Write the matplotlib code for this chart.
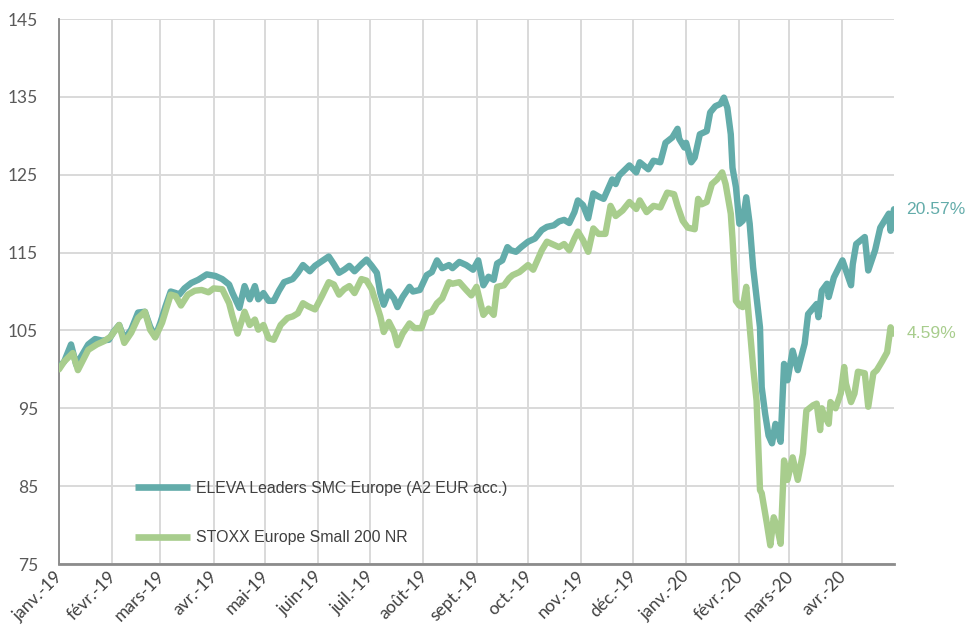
import numpy as np
import pandas as pd
import matplotlib
matplotlib.use('Agg')
import matplotlib.pyplot as plt
from matplotlib.transforms import ScaledTranslation

# days counted from 2019-01-01, values rebased to 100
eleva_days = [0, 3, 7, 10, 13, 17, 21, 25, 29, 32, 35, 38, 42, 46, 50, 53, 56, 59, 62, 65,
              68, 70, 73, 77, 81, 86, 91, 95, 99, 101, 105, 108, 111, 114, 116, 119, 122, 125, 128, 131,
              136, 139, 142, 146, 149, 153, 157, 160, 163, 166, 169, 172, 176, 179, 182, 185, 187, 189, 192, 195,
              197, 200, 204, 206, 210, 214, 217, 220, 223, 227, 229, 233, 237, 241, 244, 247, 250, 253, 255, 258,
              261, 263, 266, 269, 273, 277, 281, 284, 288, 291, 294, 297, 300, 302, 305, 308, 311, 314, 317, 322,
              324, 326, 332, 336, 338, 343, 346, 350, 353, 357, 360, 361, 364, 365, 368, 370, 373, 377, 379, 382,
              385, 387, 389, 391, 392, 394, 396, 398, 400, 402, 404, 406, 408, 409, 411, 413, 415, 417, 420, 422,
              424, 427, 430, 434, 436, 441, 442, 444, 447, 448, 451, 456, 461, 462, 464, 469, 471, 475, 478, 483,
              484, 486]
eleva = [100.3, 101.0, 103.2, 100.6, 101.7, 103.2, 103.9, 103.7, 103.8, 104.9, 105.7, 103.9, 105.1, 107.3, 107.4, 105.5, 104.2, 106.0, 108.1, 110.0,
         109.8, 109.6, 110.4, 111.1, 111.5, 112.2, 112.0, 111.6, 110.9, 109.8, 107.9, 110.7, 109.0, 110.7, 109.0, 109.8, 108.8, 108.8, 110.1, 111.2,
         111.6, 112.4, 113.4, 112.6, 113.3, 113.9, 114.5, 113.5, 112.4, 112.8, 113.3, 112.6, 113.5, 114.1, 113.3, 112.4, 109.8, 108.3, 110.0, 109.1,
         108.0, 109.3, 110.6, 110.0, 110.2, 112.1, 112.5, 114.0, 113.0, 113.4, 113.0, 113.8, 113.4, 112.8, 114.0, 110.8, 111.9, 111.5, 113.6, 114.0,
         115.7, 115.3, 115.1, 115.7, 116.4, 116.8, 117.9, 118.3, 118.5, 119.0, 119.2, 118.8, 120.2, 121.7, 121.1, 119.4, 122.6, 122.2, 121.9, 124.4,
         123.8, 124.9, 126.2, 125.3, 126.6, 125.7, 126.8, 126.6, 129.1, 129.8, 130.9, 129.6, 128.5, 129.1, 126.6, 127.2, 130.2, 130.6, 133.0, 133.8,
         134.1, 134.9, 133.6, 130.2, 125.9, 123.4, 118.7, 119.1, 122.1, 118.7, 113.1, 109.3, 105.4, 97.7, 94.3, 91.5, 90.5, 93.0, 90.7, 100.7,
         98.6, 102.4, 99.9, 103.3, 107.1, 108.4, 106.7, 110.1, 111.0, 109.3, 111.8, 114.0, 110.8, 113.5, 116.1, 117.0, 112.7, 115.3, 118.2, 120.0,
         117.8, 120.57]

stoxx_days = [0, 3, 8, 11, 14, 17, 22, 26, 30, 35, 38, 42, 46, 50, 53, 56, 60, 65, 68, 71,
              75, 79, 83, 87, 90, 95, 99, 101, 104, 108, 111, 114, 116, 119, 122, 125, 129, 133, 136, 139,
              142, 145, 149, 153, 157, 160, 163, 166, 169, 172, 176, 179, 182, 184, 187, 189, 192, 195, 197, 200,
              204, 207, 211, 214, 217, 220, 223, 227, 229, 233, 237, 240, 243, 247, 250, 253, 255, 259, 262, 264,
              268, 273, 276, 281, 284, 288, 291, 294, 297, 300, 302, 305, 308, 311, 314, 318, 321, 324, 328, 332,
              336, 338, 342, 346, 350, 354, 358, 360, 363, 366, 370, 372, 374, 377, 380, 383, 386, 388, 391, 392,
              394, 396, 398, 400, 402, 404, 406, 408, 409, 412, 414, 416, 418, 420, 422, 424, 427, 430, 433, 435,
              439, 441, 443, 444, 445, 448, 449, 452, 455, 457, 458, 461, 463, 465, 469, 471, 474, 476, 479, 482,
              484, 486]
stoxx = [100.0, 101.0, 102.1, 99.9, 101.2, 102.5, 103.2, 103.6, 104.2, 105.7, 103.4, 104.7, 106.6, 107.4, 105.1, 104.1, 106.0, 109.6, 109.4, 108.2,
         109.6, 110.1, 110.2, 109.9, 110.4, 110.3, 108.5, 106.8, 104.6, 107.4, 105.7, 106.4, 105.1, 105.7, 104.0, 103.8, 105.7, 106.6, 106.8, 107.2,
         108.5, 108.1, 107.7, 109.4, 111.2, 110.9, 109.6, 110.3, 110.7, 109.8, 111.6, 111.4, 110.3, 108.9, 106.8, 104.8, 106.1, 104.8, 103.1, 104.6,
         105.9, 105.3, 105.3, 107.2, 107.4, 108.5, 109.1, 111.2, 111.0, 111.2, 110.2, 109.5, 110.6, 107.0, 107.8, 107.0, 110.6, 110.8, 111.7, 112.1,
         112.5, 113.4, 112.8, 115.3, 116.4, 116.0, 115.7, 116.1, 115.3, 116.8, 117.7, 116.6, 115.1, 118.1, 117.4, 117.4, 121.0, 119.7, 120.4, 121.5,
         120.6, 121.7, 120.2, 121.0, 120.8, 122.7, 122.5, 121.0, 119.1, 118.2, 118.0, 121.9, 121.2, 121.5, 123.8, 124.4, 125.3, 123.8, 120.0, 116.8,
         108.8, 108.2, 108.0, 110.6, 105.4, 100.3, 96.0, 84.5, 84.1, 80.2, 77.4, 81.0, 79.7, 77.6, 88.3, 85.8, 88.7, 85.8, 89.2, 94.7,
         95.4, 95.6, 92.2, 95.0, 94.3, 93.0, 95.8, 95.0, 96.9, 100.3, 98.2, 95.8, 96.9, 99.7, 99.5, 95.2, 99.5, 99.9, 101.0, 102.2,
         105.4, 104.59]

series_names = ['ELEVA Leaders SMC Europe (A2 EUR acc.)', 'STOXX Europe Small 200 NR']
series_colors = ['#63acaa', '#a8cd8d']

month_labels = ['janv.-19', 'févr.-19', 'mars-19', 'avr.-19', 'mai-19', 'juin-19', 'juil.-19', 'août-19',
                'sept.-19', 'oct.-19', 'nov.-19', 'déc.-19', 'janv.-20', 'févr.-20', 'mars-20', 'avr.-20']
y_ticks = [75, 85, 95, 105, 115, 125, 135, 145]

start = pd.Timestamp('2019-01-01')
eleva_dates = start + pd.to_timedelta(eleva_days, unit='D')
stoxx_dates = start + pd.to_timedelta(stoxx_days, unit='D')
month_starts = pd.date_range('2019-01-01', periods=len(month_labels), freq='MS')

fig = plt.figure(figsize=(9.69, 6.34), dpi=100)
ax = fig.add_axes([0.0609, 0.1104, 0.8617, 0.8596])

for dates, vals, name, col in [(eleva_dates, eleva, series_names[0], series_colors[0]),
                               (stoxx_dates, stoxx, series_names[1], series_colors[1])]:
    ax.plot(dates, vals, color=col, lw=4.6, label=name, solid_joinstyle='round', solid_capstyle='round', zorder=3)
    ax.annotate('%.2f%%' % (vals[-1] - 100), xy=(dates[-1], vals[-1]), xytext=(9, 0),
                textcoords='offset points', va='center', ha='left', color=col,
                fontsize=12.6, family='Liberation Sans', annotation_clip=False)

ax.set_ylim(75, 145)
ax.set_yticks(y_ticks)
ax.set_xlim(start, pd.Timestamp('2020-05-01'))
ax.set_xticks(month_starts)
ax.set_xticklabels(month_labels, rotation=45, ha='right', va='top')

ax.grid(True, color='#d9d9d9', lw=1.4, zorder=0)
ax.set_axisbelow(True)
for s in ['top', 'right']:
    ax.spines[s].set_visible(False)
ax.spines['left'].set_color('#868686')
ax.spines['left'].set_linewidth(1.3)
ax.spines['bottom'].set_color('#8c8c8c')
ax.spines['bottom'].set_linewidth(2)
ax.tick_params(axis='y', length=0, pad=15, labelsize=12.5, labelcolor='#595959')
ax.tick_params(axis='x', length=0, pad=3, labelsize=12.5, labelcolor='#404040')
shift = ScaledTranslation(7 / 100, 0, fig.dpi_scale_trans)
for lab in ax.get_xticklabels():
    lab.set_family('Lato')
    lab.set_transform(lab.get_transform() + shift)
for lab in ax.get_yticklabels():
    lab.set_family('Lato')

leg = ax.legend(loc='lower left', bbox_to_anchor=(0.091, 0.034), frameon=False, borderpad=0,
                borderaxespad=0, handlelength=3.5, handletextpad=0.33, labelspacing=2.2,
                prop={'family': 'Liberation Sans', 'size': 11.4})
for t in leg.get_texts():
    t.set_color('#404040')
for h in leg.get_lines():
    h.set_linewidth(4.8)
    h.set_solid_capstyle('butt')

fig.savefig('out.png', dpi=100)
